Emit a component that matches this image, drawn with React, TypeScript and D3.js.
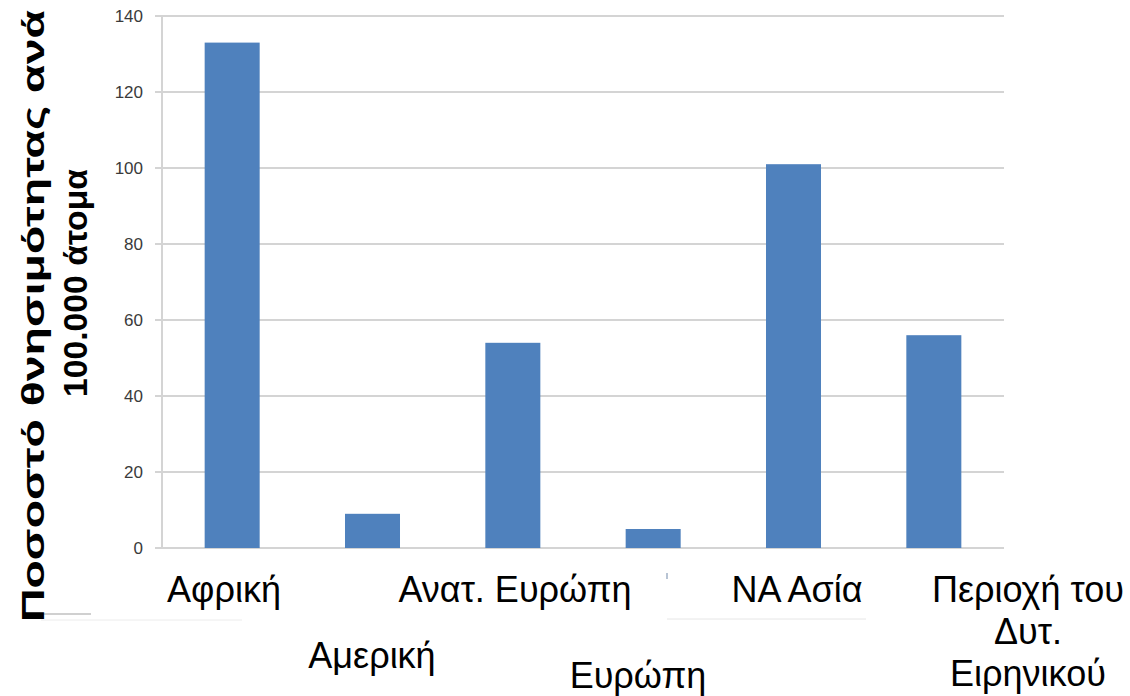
import React from "react";
import * as d3 from "d3";

const regions = ["Αφρική", "Αμερική", "Ανατ. Ευρώπη", "Ευρώπη", "ΝΑ Ασία", "Περιοχή του Δυτ. Ειρηνικού"];
const mortality = [133, 9, 54, 5, 101, 56];
const yTicks = [0, 20, 40, 60, 80, 100, 120, 140];

// Category labels as typeset under the axis: lines, anchor x, first baseline
const labelLines = [
  ["Αφρική"],
  ["Αμερική"],
  ["Ανατ. Ευρώπη"],
  ["Ευρώπη"],
  ["ΝΑ Ασία"],
  ["Περιοχή του", "Δυτ.", "Ειρηνικού"],
];
const labelX = [224, 372, 515, 638, 797, 1028];
const labelY = [602, 668, 602, 688, 602, 602];

const titleLines = ["Ποσοστό θνησιμότητας ανά", "100.000 άτομα"];

const W = 1130;
const H = 696;
const left = 162;
const right = 1004;
const top = 16;
const bottom = 548;

export default function App() {
  const x = d3.scaleBand<string>().domain(regions).range([left, right]).paddingInner(0.608).paddingOuter(0.304);
  const y = d3.scaleLinear().domain([0, 140]).range([bottom, top]);
  const grid = "#d4d4d4";
  const font = "Liberation Sans, Arial, sans-serif";

  return (
    <svg width={W} height={H} style={{ position: "absolute", left: 0, top: 0, background: "#fff" }}>
      {/* horizontal gridlines with tick stubs */}
      {yTicks.map((t) => (
        <g key={t}>
          <line x1={left - 7} x2={right} y1={y(t)} y2={y(t)} stroke={grid} strokeWidth={2} />
          <text x={143} y={y(t)} dy="0.35em" textAnchor="end" fontFamily={font} fontSize={17} fill="#3a3a3a">
            {t}
          </text>
        </g>
      ))}
      <line x1={left} x2={left} y1={top} y2={bottom} stroke={grid} strokeWidth={2} />

      {/* bars */}
      {regions.map((r, i) => (
        <rect key={r} x={x(r)} y={y(mortality[i])} width={x.bandwidth()} height={y(0) - y(mortality[i])} fill="#4f81bd" />
      ))}

      {/* faint leftover rules under the labels */}
      <line x1={41} x2={91} y1={614} y2={614} stroke="#d0d0d0" strokeWidth={2} />
      <line x1={41} x2={242} y1={620} y2={620} stroke="#ececec" strokeWidth={1} />
      <line x1={667} x2={866} y1={619} y2={619} stroke="#e6e6e6" strokeWidth={1} />
      <rect x={666} y={573} width={2} height={6} fill="#b8c4d4" />

      {/* category labels */}
      {labelLines.map((lines, i) => (
        <text key={i} x={labelX[i]} y={labelY[i]} textAnchor="middle" fontFamily={font} fontSize={36} fill="#000">
          {lines.map((l, j) => (
            <tspan key={j} x={labelX[i]} dy={j === 0 ? 0 : 42}>
              {l}
            </tspan>
          ))}
        </text>
      ))}

      {/* y-axis title */}
      <text
        transform="translate(44,316) rotate(-90)"
        textAnchor="middle"
        fontFamily={font}
        fontWeight="bold"
        fontSize={32}
        fill="#000"
        textLength={612}
        lengthAdjust="spacingAndGlyphs"
      >
        {titleLines[0]}
      </text>
      <text
        transform="translate(87,283) rotate(-90)"
        textAnchor="middle"
        fontFamily={font}
        fontWeight="bold"
        fontSize={34}
        fill="#000"
        textLength={228}
        lengthAdjust="spacingAndGlyphs"
      >
        {titleLines[1]}
      </text>
    </svg>
  );
}
